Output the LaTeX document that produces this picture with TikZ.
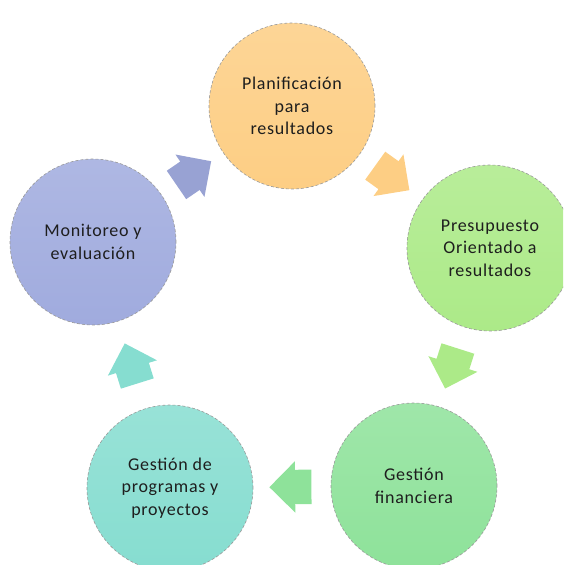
\documentclass[tikz,border=0pt]{standalone}
\usepackage{fontspec}
\setmainfont{Carlito}[LetterSpace=4]
\usetikzlibrary{shapes.arrows, calc}
\definecolor{myorange}{RGB}{253,206,132}
\definecolor{mylime}{RGB}{172,234,136}
\definecolor{mygreen}{RGB}{142,226,154}
\definecolor{myteal}{RGB}{134,221,208}
\definecolor{myblue}{RGB}{160,171,222}
\definecolor{mytext}{RGB}{30,30,30}
\tikzset{
  etapa/.style = {circle, minimum size=166pt, inner sep=0pt, align=center,
                  text=mytext, font=\fontsize{18}{22.5}\selectfont,
                  draw=black!40, densely dashed, line width=0.6pt,
                  top color=#1!85!white, bottom color=#1},
  flecha/.style = {single arrow, minimum height=42pt, inner xsep=0pt,
                   inner ysep=17pt, single arrow head extend=8.5pt,
                   sloped, allow upside down, xshift=-7pt, draw=none, fill=#1}
}

\begin{document}
\begin{tikzpicture}[x=1pt, y=1pt]
\useasboundingbox (-292,-251) rectangle (271,314);
\clip (-292,-251) rectangle (271,314);

% circles of the cycle
\node[etapa=myorange] (plan)  at (0,208)     {Planificación\\para\\resultados};
\node[etapa=mylime]   (presu) at (198,66)    {Presupuesto\\Orientado a\\resultados};
\node[etapa=mygreen]  (finan) at (122,-172)  {Gestión\\financiera};
\node[etapa=myteal]   (progr) at (-122,-174) {Gestión de\\programas y\\proyectos};
\node[etapa=myblue]   (monit) at (-199,72)   {Monitoreo y\\evaluación};

% block arrows between them
\path (plan)  -- node[flecha=myorange] (f1) {} (presu);
\path (presu) -- node[flecha=mylime]   (f2) {} (finan);
\path (finan) -- node[flecha=mygreen]  (f3) {} (progr);
\path (progr) -- node[flecha=myteal]   (f4) {} (monit);
\path (monit) -- node[flecha=myblue!95!black] (f5) {} (plan);
\end{tikzpicture}
\end{document}
